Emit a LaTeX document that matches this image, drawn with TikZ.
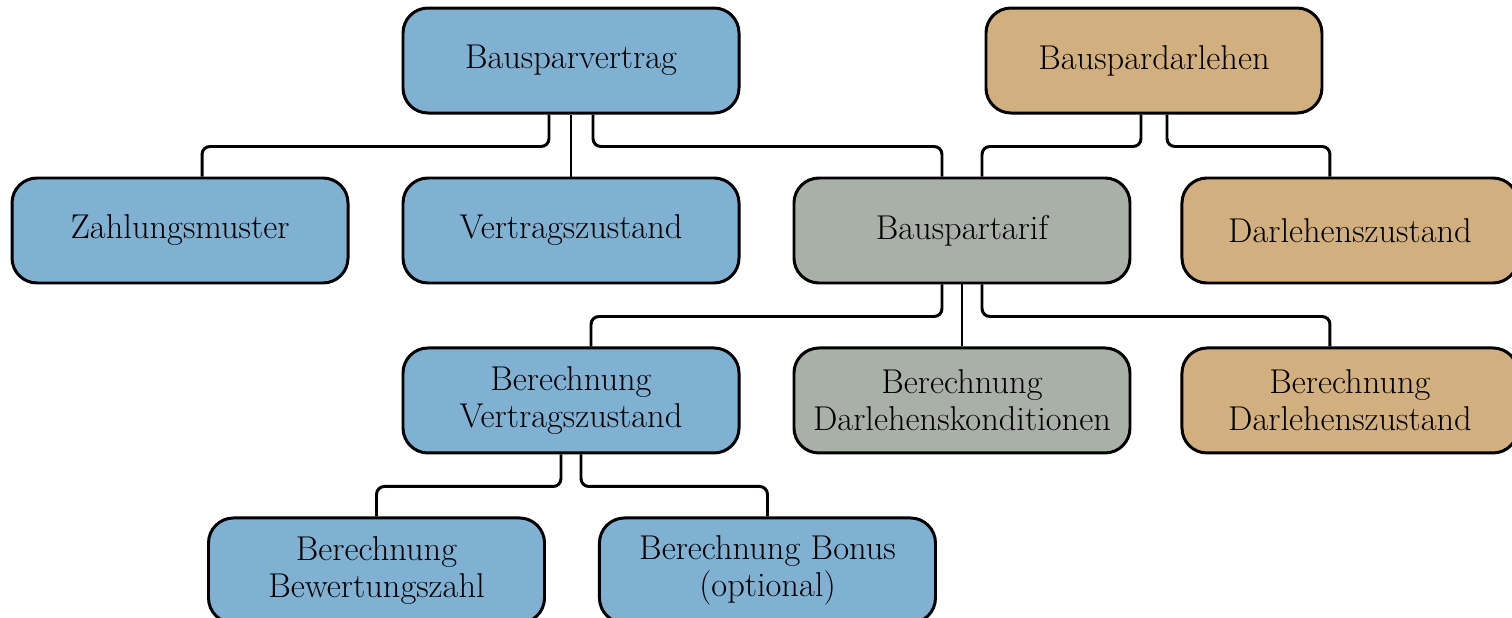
\documentclass[tikz,border=0pt]{standalone}
\usepackage{tikz}
\usetikzlibrary{positioning}
\definecolor{vertrag}{HTML}{80B1D3}
\definecolor{darlehen}{HTML}{D2AF7F}
\definecolor{tarif}{HTML}{A9B0A8}

\begin{document}
\begin{tikzpicture}[
      font=\fontsize{19.6}{21}\selectfont,
      node distance=1.24cm and 1.04cm,
      box/.style={draw, rounded corners=0.5cm, line width=1.7pt,
                  minimum width=6.72cm, minimum height=2.1cm, align=center},
      vbox/.style={box, fill=vertrag},
      dbox/.style={box, fill=darlehen},
      tbox/.style={box, fill=tarif},
      link/.style={line width=1.7pt, rounded corners=4.5pt}
    ]
    \useasboundingbox (0,0) rectangle (30.24,-12.34);

    \node[vbox] (vertrag) at (11.42,-1.21) {Bausparvertrag};
    \node[dbox, right=4.88cm of vertrag] (darlehen) {Bauspardarlehen};
    \node[vbox, below=of vertrag] (vzustand) {Vertragszustand};
    \node[vbox, left=of vzustand] (zahlung) {Zahlungsmuster};
    \node[tbox, right=of vzustand] (tarif) {Bauspartarif};
    \node[dbox, right=0.98cm of tarif] (dzustand) {Darlehenszustand};
    \node[vbox, below=of vzustand] (bvzustand) {Berechnung\\Vertragszustand};
    \node[tbox, below=of tarif] (bdkond) {Berechnung\\Darlehenskonditionen};
    \node[dbox, below=of dzustand] (bdzustand) {Berechnung\\Darlehenszustand};
    \node[vbox, below=of bvzustand, xshift=-3.89cm] (bewert) {Berechnung\\Bewertungszahl};
    \node[vbox, right=of bewert] (bonus) {Berechnung Bonus\\(optional)};

    % Bausparvertrag
    \draw[link] ([xshift=-0.44cm]vertrag.south) -- ++(0,-0.64) -| ([xshift=0.44cm]zahlung.north);
    \draw[link] (vertrag.south) -- (vzustand.north);
    \draw[link] ([xshift=0.44cm]vertrag.south) -- ++(0,-0.64) -| ([xshift=-0.4cm]tarif.north);

    % Bauspardarlehen
    \draw[link] ([xshift=-0.26cm]darlehen.south) -- ++(0,-0.64) -| ([xshift=0.4cm]tarif.north);
    \draw[link] ([xshift=0.26cm]darlehen.south) -- ++(0,-0.64) -| ([xshift=-0.4cm]dzustand.north);

    % Bauspartarif
    \draw[link] ([xshift=-0.4cm]tarif.south) -- ++(0,-0.64) -| ([xshift=0.4cm]bvzustand.north);
    \draw[link] (tarif.south) -- (bdkond.north);
    \draw[link] ([xshift=0.4cm]tarif.south) -- ++(0,-0.64) -| ([xshift=-0.4cm]bdzustand.north);

    % Berechnung Vertragszustand
    \draw[link] ([xshift=-0.2cm]bvzustand.south) -- ++(0,-0.64) -| (bewert.north);
    \draw[link] ([xshift=0.2cm]bvzustand.south) -- ++(0,-0.64) -| (bonus.north);

  \end{tikzpicture}
\end{document}
